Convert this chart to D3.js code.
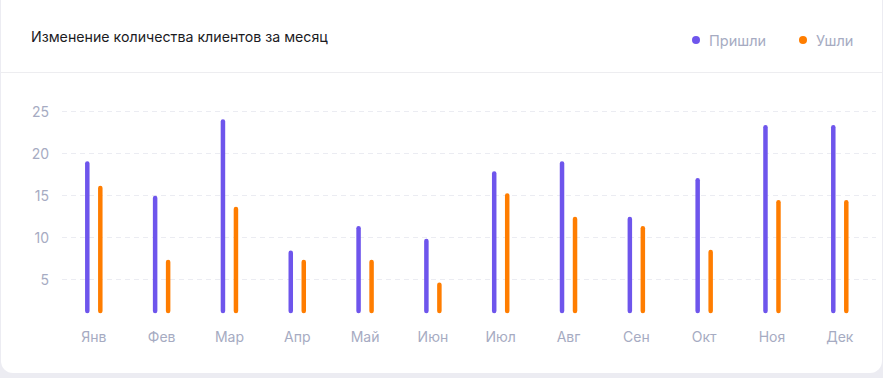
<!DOCTYPE html>
<html><head><meta charset="utf-8">
<script src="https://cdn.jsdelivr.net/npm/d3@7"></script>
<style>
html,body{margin:0;padding:0;background:#ececf2;}
svg{display:block;font-family:Inter,"Noto Sans",sans-serif;}
</style></head>
<body><svg id="c" width="883" height="378"></svg>
<script>
const title = "Изменение количества клиентов за месяц";
const months = ["Янв","Фев","Мар","Апр","Май","Июн","Июл","Авг","Сен","Окт","Ноя","Дек"];
const seriesNames = ["Пришли","Ушли"];
const came = [19, 14.9, 24, 8.4, 11.3, 9.8, 17.8, 19, 12.4, 17, 23.3, 23.3];
const left = [16.1, 7.3, 13.6, 7.3, 7.3, 4.6, 15.2, 12.4, 11.3, 8.5, 14.4, 14.4];
const yTicks = [5, 10, 15, 20, 25];
const colors = ["#6e55ec", "#ff7d00"];

const svg = d3.select("#c");
svg.append("rect").attr("x",1).attr("y",-20).attr("width",881).attr("height",393)
  .attr("rx",12).attr("fill","#fff");
svg.append("line").attr("x1",1).attr("x2",882).attr("y1",72.5).attr("y2",72.5)
  .attr("stroke","#ededf0");

svg.append("text").attr("x",31).attr("y",42).attr("font-size",14.2).attr("fill","#1b1b1f")
  .text(title);

// legend
const leg = [{x:696, n:0},{x:803, n:1}];
leg.forEach(l=>{
  svg.append("circle").attr("cx",l.x).attr("cy",40).attr("r",4).attr("fill",colors[l.n]);
  svg.append("text").attr("x",l.x+13).attr("y",45.5).attr("font-size",14.5)
    .attr("fill","#a6abc2").text(seriesNames[l.n]);
});

const x = d3.scaleBand().domain(months).range([59.9, 873.7]);
const y = d3.scaleLinear().domain([1, 25]).range([313, 111]);

// grid
const g = svg.append("g");
g.selectAll("line.grid").data(yTicks).join("line")
  .attr("x1",62).attr("x2",876).attr("y1",d=>Math.round(y(d))+0.5).attr("y2",d=>Math.round(y(d))+0.5)
  .attr("stroke","#ebecf2").attr("stroke-dasharray","5,4");

// y axis
const yAxis = d3.axisLeft(y).tickValues(yTicks).tickSize(0).tickPadding(0);
const ya = svg.append("g").attr("transform","translate(49,0)").call(yAxis);
ya.select(".domain").remove();
ya.selectAll("text").attr("font-size",14).attr("fill","#a6abc2").attr("font-family","Inter,'Noto Sans',sans-serif").attr("dy","0.36em");

// x axis
const xAxis = d3.axisBottom(x).tickSize(0).tickPadding(0);
const xa = svg.append("g").attr("transform","translate(0,331)").call(xAxis);
xa.select(".domain").remove();
xa.selectAll("text").attr("font-size",14).attr("fill","#a6abc2").attr("font-family","Inter,'Noto Sans',sans-serif").attr("dy","0.75em");

// bars
const data = [came, left];
data.forEach((vals, si)=>{
  svg.append("g").selectAll("line").data(vals).join("line")
    .attr("x1",(d,i)=>x(months[i])+x.bandwidth()/2 + (si===0?-6.5:6.5))
    .attr("x2",(d,i)=>x(months[i])+x.bandwidth()/2 + (si===0?-6.5:6.5))
    .attr("y1", y(1)-2)
    .attr("y2", d=>y(d)+2)
    .attr("stroke",colors[si]).attr("stroke-width",4.5).attr("stroke-linecap","round");
});
</script></body></html>
